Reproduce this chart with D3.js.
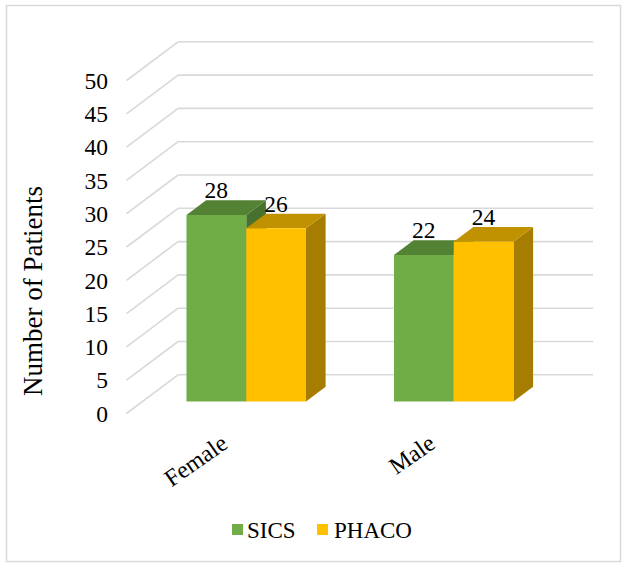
<!DOCTYPE html>
<html>
<head>
<meta charset="utf-8">
<script src="https://cdn.jsdelivr.net/npm/d3@7"></script>
<style>
  html, body { margin: 0; padding: 0; background: #fff; }
  svg { display: block; }
</style>
</head>
<body>
<svg id="chart" width="626" height="567" font-family="'Liberation Serif', 'Times New Roman', serif"></svg>
<script>
// ---- data ----
const categories = ["Female", "Male"];
const seriesNames = ["SICS", "PHACO"];
const sicsValues = [28, 22];
const phacoValues = [26, 24];
const yTicks = [0, 5, 10, 15, 20, 25, 30, 35, 40, 45, 50];
const axisTitle = "Number of Patients";

// ---- styles ----
const colors = {
  SICS:  { front: "#70AD47", top: "#548235", side: "#47712C" },
  PHACO: { front: "#FFC000", top: "#C09100", side: "#A67D00" }
};
const gridColor = "#D9D9D9";

const svg = d3.select("#chart");

// chart border
svg.append("rect").attr("x", 6.5).attr("y", 5.5).attr("width", 614).attr("height", 556)
  .attr("fill", "#fff").attr("stroke", gridColor).attr("stroke-width", 1.5);

// 3D projection parameters
const DX = 51.6, DY = 38.7;
const y = d3.scaleLinear().domain([0, 50]).range([413.5, 80.5]);
const x = d3.scaleBand().domain(categories).range([126.5, 541.5]).paddingInner(0).paddingOuter(0);
const groupWidth = 119.5;
const xs = d3.scaleBand().domain(seriesNames).range([0, groupWidth]);
const z0 = 0.31, z1 = 0.69;
function P(xf, v, z) { return [xf + z * DX, y(v) - z * DY]; }

// back wall gridlines
const g = svg.append("g");
yTicks.forEach(t => {
  const a = P(x.range()[0], t, 0), b = P(x.range()[0], t, 1), c = P(x.range()[1], t, 1);
  g.append("line").attr("x1", a[0]).attr("y1", a[1]).attr("x2", b[0]).attr("y2", b[1])
    .attr("stroke", gridColor).attr("stroke-width", 1.6);
  g.append("line").attr("x1", b[0]).attr("y1", b[1]).attr("x2", c[0]).attr("y2", c[1])
    .attr("stroke", gridColor).attr("stroke-width", 1.6);
});

// y tick labels
svg.append("g").selectAll("text").data(yTicks).join("text")
  .attr("x", 108).attr("y", d => y(d)).attr("dy", "0.35em")
  .attr("text-anchor", "end").attr("font-size", 23.5).attr("fill", "#000").text(d => d);

// axis title
svg.append("text").attr("transform", "translate(42,291) rotate(-90)")
  .attr("text-anchor", "middle").attr("font-size", 27).attr("fill", "#000").text(axisTitle);

// bars
const data = categories.map((c, i) => ({ cat: c, vals: [
  { s: "SICS", v: sicsValues[i] }, { s: "PHACO", v: phacoValues[i] } ] }));

const barsG = svg.append("g");
const labels = [];
data.forEach(d => {
  const gx = x(d.cat) + (x.bandwidth() - groupWidth) / 2;
  d.vals.forEach(b => {
    const xl = gx + xs(b.s), xr = xl + xs.bandwidth();
    const col = colors[b.s];
    const fbl = P(xl, 0, z0), fbr = P(xr, 0, z0), ftl = P(xl, b.v, z0), ftr = P(xr, b.v, z0);
    const btl = P(xl, b.v, z1), btr = P(xr, b.v, z1), bbr = P(xr, 0, z1);
    const poly = pts => pts.map(p => p.join(",")).join(" ");
    barsG.append("polygon").attr("points", poly([ftr, btr, bbr, fbr])).attr("fill", col.side);
    barsG.append("polygon").attr("points", poly([ftl, btl, btr, ftr])).attr("fill", col.top);
    barsG.append("polygon").attr("points", poly([fbl, ftl, ftr, fbr])).attr("fill", col.front);
    labels.push({ x: (xl + xr) / 2 + z0 * DX, y: btl[1] - 2, v: b.v });
  });
});

svg.append("g").selectAll("text").data(labels).join("text")
  .attr("x", d => d.x).attr("y", d => d.y).attr("text-anchor", "middle")
  .attr("font-size", 23.5).attr("fill", "#000").text(d => d.v);

// category labels (rotated)
svg.append("g").selectAll("text").data(categories).join("text")
  .attr("transform", d => `translate(${x(d) + x.bandwidth() / 2 - 1},447) rotate(-35)`)
  .attr("text-anchor", "end").attr("font-size", 24).attr("fill", "#000").text(d => d);

// legend
const legend = svg.append("g");
const legendItems = [{ name: "SICS", sx: 232, tx: 247 }, { name: "PHACO", sx: 317, tx: 334 }];
legendItems.forEach(it => {
  legend.append("rect").attr("x", it.sx).attr("y", 524).attr("width", 11).attr("height", 11)
    .attr("fill", colors[it.name].front);
  legend.append("text").attr("x", it.tx).attr("y", 538).attr("font-size", 23)
    .attr("fill", "#000").text(it.name);
});
</script>
</body>
</html>
